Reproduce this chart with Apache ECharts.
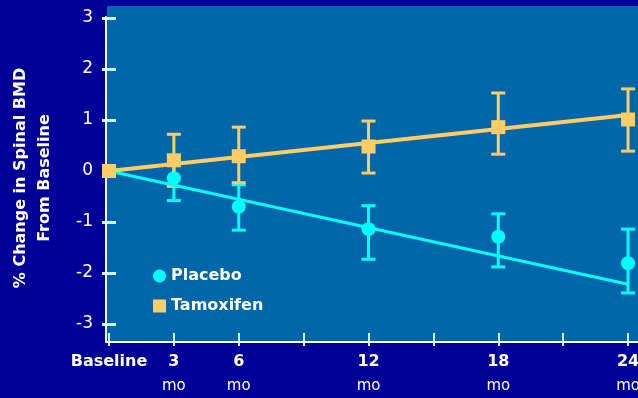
<!DOCTYPE html>
<html>
<head>
<meta charset="utf-8">
<style>
  html, body { margin: 0; padding: 0; background: #000099; }
  #chart { width: 638px; height: 398px; }
</style>
<script src="https://cdn.jsdelivr.net/npm/echarts@6/dist/echarts.min.js"></script>
</head>
<body>
<div id="chart"></div>
<script>
// Study visits (months from baseline)
const months = [0, 3, 6, 12, 18, 24];
const monthLabels = ['Baseline', '3', '6', '12', '18', '24'];

// Mean % change in spinal BMD and error-bar extents
const placeboMean = [0, -0.14, -0.70, -1.14, -1.29, -1.81];
const placeboLow  = [null, -0.58, -1.16, -1.73, -1.88, -2.39];
const placeboHigh = [null, 0.30, -0.27, -0.68, -0.84, -1.14];

const tamoxMean = [0, 0.21, 0.29, 0.48, 0.86, 1.01];
const tamoxLow  = [null, -0.30, -0.23, -0.04, 0.33, 0.39];
const tamoxHigh = [null, 0.72, 0.86, 0.98, 1.53, 1.61];

// Fitted trend lines (endpoints)
const trendMonths = [0, 24];
const placeboTrend = [0, -2.22];
const tamoxTrend = [0, 1.10];

// Axis ticks
const xTicks = [0, 3, 6, 9, 12, 15, 18, 21, 24];
const yTicks = [-3, -2, -1, 0, 1, 2, 3];

const FONT = 'DejaVu Sans';
const CYAN = '#00ffff';
const GOLD = '#ffcc66';
const TICK = '#ccffff';
const PANEL = '#0066aa';

const pairs = (xs, ys) => xs.map((x, i) => [x, ys[i]]);
const errData = (low, high) => months
  .map((m, i) => [m, low[i], high[i]])
  .filter(d => d[1] !== null);

function errorBar(color) {
  return function (params, api) {
    const x = api.value(0);
    const lo = api.coord([x, api.value(1)]);
    const hi = api.coord([x, api.value(2)]);
    const half = 7;
    const style = { stroke: color, lineWidth: 3 };
    return {
      type: 'group',
      children: [
        { type: 'line', shape: { x1: lo[0], y1: lo[1], x2: hi[0], y2: hi[1] }, style },
        { type: 'line', shape: { x1: hi[0] - half, y1: hi[1], x2: hi[0] + half, y2: hi[1] }, style },
        { type: 'line', shape: { x1: lo[0] - half, y1: lo[1], x2: lo[0] + half, y2: lo[1] }, style }
      ]
    };
  };
}

const xMin = -0.139, xMax = 24.46;
const yMin = -3.353, yMax = 3.02;

const chart = echarts.init(document.getElementById('chart'));
chart.setOption({
  backgroundColor: '#000099',
  animation: false,
  textStyle: { fontFamily: FONT },
  grid: {
    left: 106, right: 0, top: 17, bottom: 56,
    outerBoundsMode: 'none',
    containLabel: false,
    show: true, backgroundColor: PANEL, borderWidth: 0
  },
  legend: {
    orient: 'vertical',
    left: 148, top: 263,
    itemWidth: 13, itemHeight: 13,
    itemGap: 14,
    data: [
      { name: 'Placebo', icon: 'circle' },
      { name: 'Tamoxifen', icon: 'rect' }
    ],
    textStyle: { color: '#ffffff', fontWeight: 'bold', fontSize: 16, fontFamily: FONT }
  },
  xAxis: [
    {
      type: 'value', min: xMin, max: xMax,
      splitLine: { show: false },
      axisLine: { show: true, onZero: false, lineStyle: { color: '#ffffff', width: 2 } },
      axisTick: { show: true, inside: true, length: 9, customValues: xTicks, lineStyle: { color: TICK, width: 2 } },
      axisLabel: {
        margin: 8,
        customValues: months,
        formatter: v => {
          const i = months.indexOf(Math.round(v));
          if (i < 0) return '';
          return i === 0 ? '{a|' + monthLabels[i] + '}\n{b| }' : '{a|' + monthLabels[i] + '}\n{b|mo}';
        },
        rich: {
          a: { color: '#ffffff', fontWeight: 'bold', fontSize: 16, lineHeight: 24, fontFamily: FONT },
          b: { color: '#ffffff', fontSize: 15, lineHeight: 24, fontFamily: FONT }
        }
      }
    },
    {
      type: 'value', min: xMin, max: xMax, position: 'bottom',
      splitLine: { show: false },
      axisLine: { show: false, onZero: false },
      axisTick: { show: true, inside: false, length: 4, customValues: xTicks, lineStyle: { color: TICK, width: 2 } },
      axisLabel: { show: false }
    }
  ],
  yAxis: [
    {
      type: 'value', min: yMin, max: yMax,
      splitLine: { show: false },
      axisLine: { show: true, onZero: false, lineStyle: { color: '#ffffff', width: 2 } },
      axisTick: { show: true, inside: true, length: 10, customValues: yTicks, lineStyle: { color: TICK, width: 3 } },
      axisLabel: {
        margin: 13, customValues: yTicks,
        color: '#ffffff', fontSize: 17, fontFamily: FONT,
        formatter: v => String(Math.round(v))
      }
    },
    {
      type: 'value', min: yMin, max: yMax, position: 'left',
      splitLine: { show: false },
      axisLine: { show: false, onZero: false },
      axisTick: { show: true, inside: false, length: 4, customValues: yTicks, lineStyle: { color: TICK, width: 3 } },
      axisLabel: { show: false }
    }
  ],
  graphic: [
    // panel continues a little above the top of the value axis
    {
      type: 'rect', z: -1,
      shape: { x: 107, y: 6, width: 531, height: 12 },
      style: { fill: PANEL }
    },
    {
      type: 'text',
      x: 33, y: 178,
      rotation: Math.PI / 2,
      style: {
        text: '% Change in Spinal BMD\nFrom Baseline',
        fill: '#ffffff',
        font: 'bold 16px "DejaVu Sans"',
        lineHeight: 24,
        align: 'center',
        verticalAlign: 'middle'
      }
    }
  ],
  series: [
    {
      name: 'PlaceboErr', type: 'custom', z: 2,
      renderItem: errorBar(CYAN),
      data: errData(placeboLow, placeboHigh),
      encode: { x: 0, y: [1, 2] }
    },
    {
      name: 'TamoxErr', type: 'custom', z: 3,
      renderItem: errorBar(GOLD),
      data: errData(tamoxLow, tamoxHigh),
      encode: { x: 0, y: [1, 2] }
    },
    {
      name: 'PlaceboTrend', type: 'line', z: 4, symbol: 'none',
      lineStyle: { color: CYAN, width: 3 },
      data: pairs(trendMonths, placeboTrend)
    },
    {
      name: 'TamoxTrend', type: 'line', z: 5, symbol: 'none',
      lineStyle: { color: GOLD, width: 4 },
      data: pairs(trendMonths, tamoxTrend)
    },
    {
      name: 'Placebo', type: 'scatter', z: 6,
      symbol: 'circle', symbolSize: 14,
      itemStyle: { color: CYAN, opacity: 1 },
      data: pairs(months, placeboMean)
    },
    {
      name: 'Tamoxifen', type: 'scatter', z: 7,
      symbol: 'rect', symbolSize: 14,
      itemStyle: { color: GOLD, opacity: 1 },
      data: pairs(months, tamoxMean)
    }
  ]
});
</script>
</body>
</html>
